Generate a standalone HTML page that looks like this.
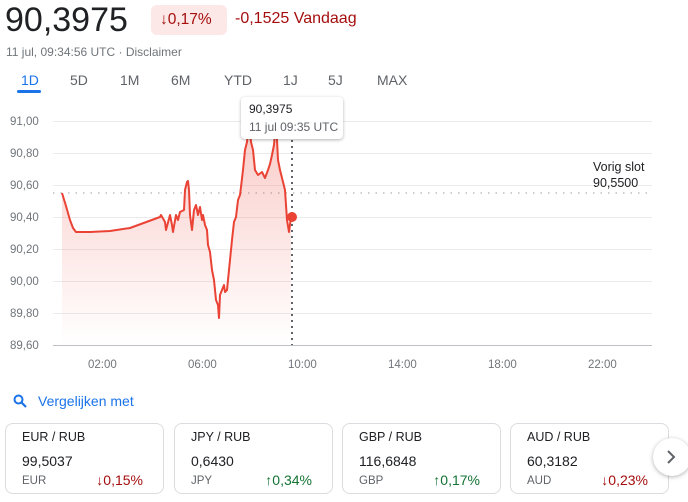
<!DOCTYPE html>
<html><head><meta charset="utf-8"><style>
body{margin:0;width:688px;height:502px;background:#fff;font-family:"Liberation Sans",Arial,sans-serif;position:relative;overflow:hidden}
.a{position:absolute;white-space:nowrap}
.card{position:absolute;top:423px;width:159px;height:71px;border:1px solid #dadce0;border-radius:8px;box-sizing:border-box}
.card .n{position:absolute;left:16px;top:6px;font-size:12.5px;color:#202124}
.card .v{position:absolute;left:16px;top:29px;font-size:14px;color:#202124}
.card .c{position:absolute;left:16px;top:51px;font-size:11.5px;color:#5f6368}
.card .p{position:absolute;right:20px;top:48px;font-size:14px}
.dn{color:#a50e0e}.up{color:#137333}
</style></head><body>
<div class="a" style="left:5px;top:1px;font-size:34px;color:#202124">90,3975</div>
<div class="a" style="left:151px;top:5px;width:76px;height:30px;background:#fce8e6;border-radius:6px"></div>
<div class="a dn" style="left:160px;top:11px;font-size:15.5px">↓0,17%</div>
<div class="a dn" style="left:235px;top:10px;font-size:16px">-0,1525 Vandaag</div>
<div class="a" style="left:6px;top:45px;font-size:12px;color:#70757a">11 jul, 09:34:56 UTC · Disclaimer</div>
<div class="a" style="left:21px;top:72px;font-size:14px;color:#1a73e8">1D</div>
<div class="a" style="left:17px;top:90px;width:24px;height:3px;background:#1a73e8;border-radius:2px"></div>
<div class="a" style="left:70px;top:72px;font-size:14px;color:#5f6368">5D</div>
<div class="a" style="left:120px;top:72px;font-size:14px;color:#5f6368">1M</div>
<div class="a" style="left:171px;top:72px;font-size:14px;color:#5f6368">6M</div>
<div class="a" style="left:224px;top:72px;font-size:14px;color:#5f6368">YTD</div>
<div class="a" style="left:283px;top:72px;font-size:14px;color:#5f6368">1J</div>
<div class="a" style="left:328px;top:72px;font-size:14px;color:#5f6368">5J</div>
<div class="a" style="left:377px;top:72px;font-size:14px;color:#5f6368">MAX</div>
<svg class="a" style="left:0;top:0" width="688" height="380">
<defs><linearGradient id="g" x1="0" y1="0" x2="0" y2="1"><stop offset="0" stop-color="#ea4335" stop-opacity=".28"/><stop offset="1" stop-color="#ea4335" stop-opacity="0"/></linearGradient></defs>
<g stroke="#ebebeb" stroke-width="1">
<line x1="53" x2="652" y1="121.5" y2="121.5"/><line x1="53" x2="652" y1="153.5" y2="153.5"/><line x1="53" x2="652" y1="185.5" y2="185.5"/><line x1="53" x2="652" y1="217.5" y2="217.5"/><line x1="53" x2="652" y1="249.5" y2="249.5"/><line x1="53" x2="652" y1="281.5" y2="281.5"/><line x1="53" x2="652" y1="313.5" y2="313.5"/></g>
<line x1="53" x2="652" y1="345.5" y2="345.5" stroke="#bdc1c6"/>
<g font-size="11.5" fill="#70757a">
<text x="10" y="125">91,00</text><text x="10" y="157">90,80</text><text x="10" y="189">90,60</text><text x="10" y="221">90,40</text><text x="10" y="253">90,20</text><text x="10" y="285">90,00</text><text x="10" y="317">89,80</text><text x="10" y="349">89,60</text>
<text x="88" y="368">02:00</text><text x="188" y="368">06:00</text><text x="288" y="368">10:00</text><text x="388" y="368">14:00</text><text x="488" y="368">18:00</text><text x="588" y="368">22:00</text></g>
<line x1="53" x2="652" y1="193" y2="193" stroke="#9aa0a6" stroke-dasharray="1.5 6"/>
<polygon fill="url(#g)" points="62,193 66,206 70,220 73,228 76,232 90,232 110,231 130,228 160,217 161,215 165,222 166,230 170,215 172,225 173,232 176,215 178,220 180,212 184,210 185,190 187,182 188,181 189,190 190,215 192,230 194,210 196,205 198,215 200,207 202,220 203,215 205,225 207,230 208,245 210,252 212,270 214,280 216,300 218,305 219,318 220,295 222,290 224,285 225,292 227,290 229,270 231,250 232,240 234,222 236,217 238,200 240,195 241,187 243,170 245,150 247,142 249,120 251,142 253,150 255,170 258,175 262,172 265,178 268,170 270,164 272,155 274,145 276,120 278,160 280,170 283,182 285,190 287,220 289,232 291,217 291,345 62,345"/>
<polyline fill="none" stroke="#ea4335" stroke-width="2" stroke-linejoin="round" points="62,193 66,206 70,220 73,228 76,232 90,232 110,231 130,228 160,217 161,215 165,222 166,230 170,215 172,225 173,232 176,215 178,220 180,212 184,210 185,190 187,182 188,181 189,190 190,215 192,230 194,210 196,205 198,215 200,207 202,220 203,215 205,225 207,230 208,245 210,252 212,270 214,280 216,300 218,305 219,318 220,295 222,290 224,285 225,292 227,290 229,270 231,250 232,240 234,222 236,217 238,200 240,195 241,187 243,170 245,150 247,142 249,120 251,142 253,150 255,170 258,175 262,172 265,178 268,170 270,164 272,155 274,145 276,120 278,160 280,170 283,182 285,190 287,220 289,232 291,217"/>
<line x1="292" x2="292" y1="140" y2="345" stroke="#5f6368" stroke-width="2" stroke-dasharray="2 4"/>
<circle cx="292" cy="217" r="5" fill="#ea4335"/>
<text x="593" y="171" font-size="12.5" fill="#202124">Vorig slot</text>
<text x="593" y="187" font-size="12.5" fill="#202124">90,5500</text>
</svg>
<div class="a" style="left:241px;top:97px;width:102px;height:42px;background:#fff;border-radius:4px;box-shadow:0 1px 3px rgba(0,0,0,.3)"></div>
<div class="a" style="left:249px;top:102px;font-size:12px;color:#202124">90,3975</div>
<div class="a" style="left:249px;top:120px;font-size:12px;color:#5f6368">11 jul 09:35 UTC</div>
<svg class="a" style="left:13px;top:394px" width="14" height="14"><circle cx="5.5" cy="5.5" r="4" fill="none" stroke="#1a73e8" stroke-width="2"/><line x1="8.5" y1="8.5" x2="13" y2="13" stroke="#1a73e8" stroke-width="2.2"/></svg>
<div class="a" style="left:38px;top:393px;font-size:14px;color:#1a73e8">Vergelijken met</div>
<div class="card" style="left:5px"><div class="n">EUR / RUB</div><div class="v">99,5037</div><div class="c">EUR</div><div class="p dn">↓0,15%</div></div>
<div class="card" style="left:174px"><div class="n">JPY / RUB</div><div class="v">0,6430</div><div class="c">JPY</div><div class="p up">↑0,34%</div></div>
<div class="card" style="left:342px"><div class="n">GBP / RUB</div><div class="v">116,6848</div><div class="c">GBP</div><div class="p up">↑0,17%</div></div>
<div class="card" style="left:510px"><div class="n">AUD / RUB</div><div class="v">60,3182</div><div class="c">AUD</div><div class="p dn">↓0,23%</div></div>
<div class="a" style="left:653px;top:438px;width:38px;height:38px;border-radius:50%;background:#fff;box-shadow:0 1px 4px rgba(0,0,0,.3)"></div>
<svg class="a" style="left:665px;top:449px" width="12" height="16"><polyline points="3,2 9,8 3,14" fill="none" stroke="#5f6368" stroke-width="2"/></svg>
</body></html>
